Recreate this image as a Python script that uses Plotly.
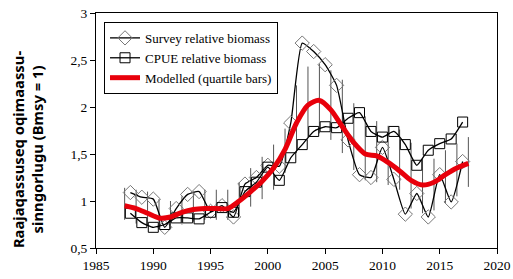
import plotly.graph_objects as go

years = list(range(1988, 2018))
survey = [1.09, 1.04, 1.02, 0.72, 0.92, 1.07, 1.10, 0.89, 0.95, 0.83,
          1.18, 1.25, 1.38, 1.37, 1.83, 2.68, 2.59, 2.45, 2.23, 1.65,
          1.28, 1.25, 1.57, 1.23, 0.86, 1.08, 0.83, 1.28, 0.99, 1.42]
cpue = [0.87, 0.77, 0.72, 0.75, 0.82, 0.82, 0.81, 0.88, 0.93, 0.88,
        1.10, 1.20, 1.36, 1.22, 1.46, 1.60, 1.74, 1.79, 1.78, 1.88,
        1.94, 1.74, 1.68, 1.74, 1.60, 1.38, 1.54, 1.61, 1.66, 1.84]

model_years = [y + 0.5 for y in range(1987, 2018)]
modelled = [0.95, 0.92, 0.87, 0.82, 0.83, 0.88, 0.91, 0.92, 0.92, 0.92,
            1.00, 1.10, 1.21, 1.35, 1.55, 1.83, 2.02, 2.07, 1.97, 1.79,
            1.62, 1.50, 1.48, 1.41, 1.32, 1.22, 1.17, 1.20, 1.28, 1.35, 1.40]
q_upper = [1.14, 1.12, 1.10, 1.02, 1.00, 1.05, 1.10, 1.12, 1.12, 1.12,
           1.20, 1.35, 1.47, 1.60, 1.77, 2.23, 2.43, 2.46, 2.39, 2.29,
           2.04, 1.90, 1.85, 1.80, 1.76, 1.62, 1.45, 1.45, 1.54, 1.61, 1.68]
q_lower = [0.80, 0.76, 0.74, 0.70, 0.70, 0.75, 0.78, 0.80, 0.80, 0.80,
           0.84, 0.94, 1.02, 1.12, 1.30, 1.51, 1.68, 1.72, 1.65, 1.51,
           1.33, 1.22, 1.20, 1.17, 1.12, 0.92, 0.87, 0.90, 0.98, 1.05, 1.15]

x_ticks = [1985, 1990, 1995, 2000, 2005, 2010, 2015, 2020]
y_ticks = [0.5, 1, 1.5, 2, 2.5, 3]
y_ticktext = ["0,5", "1", "1,5", "2", "2,5", "3"]

serif = "Liberation Serif"

fig = go.Figure()

# quartile bars
fig.add_trace(go.Scatter(
    x=model_years, y=modelled, mode="markers",
    marker=dict(size=1, opacity=0),
    error_y=dict(type="data", symmetric=False,
                 array=[u - m for u, m in zip(q_upper, modelled)],
                 arrayminus=[m - l for l, m in zip(q_lower, modelled)],
                 color="#555555", thickness=1, width=0),
    showlegend=False, hoverinfo="skip"))

fig.add_trace(go.Scatter(
    x=years, y=survey, mode="lines+markers", name="Survey relative biomass",
    line=dict(color="black", width=1.3, shape="spline", smoothing=0.5),
    marker=dict(symbol="diamond-open", size=11, color="#777777",
                line=dict(width=1, color="#777777"))))

fig.add_trace(go.Scatter(
    x=years, y=cpue, mode="lines+markers", name="CPUE relative biomass",
    line=dict(color="black", width=1.3, shape="spline", smoothing=0.5),
    marker=dict(symbol="square-open", size=10, color="black",
                line=dict(width=1, color="black"))))

fig.add_trace(go.Scatter(
    x=model_years, y=modelled, mode="lines", name="Modelled (quartile bars)",
    line=dict(color="#e8000b", width=5, shape="spline", smoothing=0.8)))

fig.update_layout(
    width=513, height=279,
    margin=dict(l=96, r=16, t=12.5, b=30.7, autoexpand=False),
    paper_bgcolor="white", plot_bgcolor="white",
    font=dict(family=serif, size=13.5, color="black"),
    legend=dict(x=0.02, y=0.962, xanchor="left", yanchor="top",
                bgcolor="white", bordercolor="black", borderwidth=1,
                font=dict(family=serif, size=13, color="black"),
                tracegroupgap=0, itemwidth=30),
    xaxis=dict(range=[1985, 2020], tickvals=x_ticks, automargin=False,
               ticklabeloverflow="allow",
               showgrid=False, zeroline=False, showline=True,
               linecolor="black", linewidth=1, mirror=True,
               ticks="outside", ticklen=5, tickcolor="black",
               tickfont=dict(family=serif, size=13.5)),
    yaxis=dict(range=[0.5, 3], tickvals=y_ticks, ticktext=y_ticktext,
               automargin=False, ticklabeloverflow="allow",
               showgrid=False, zeroline=False, showline=True,
               linecolor="black", linewidth=1, mirror=True,
               ticks="outside", ticklen=5, tickcolor="black",
               tickfont=dict(family=serif, size=13.5)),
    annotations=[dict(
        text="<b>Raajaqassuseq oqimaassu-<br>sinngorlugu (Bmsy = 1)</b>",
        xref="paper", yref="paper", x=-0.172, y=0.421,
        xanchor="center", yanchor="middle", textangle=-90,
        showarrow=False,
        font=dict(family="Noto Sans", size=14.8, color="black"))],
)

fig.write_html("out.html",
               config={"displayModeBar": False},
               post_script="document.body.style.margin='0';document.body.style.overflow='hidden';")
